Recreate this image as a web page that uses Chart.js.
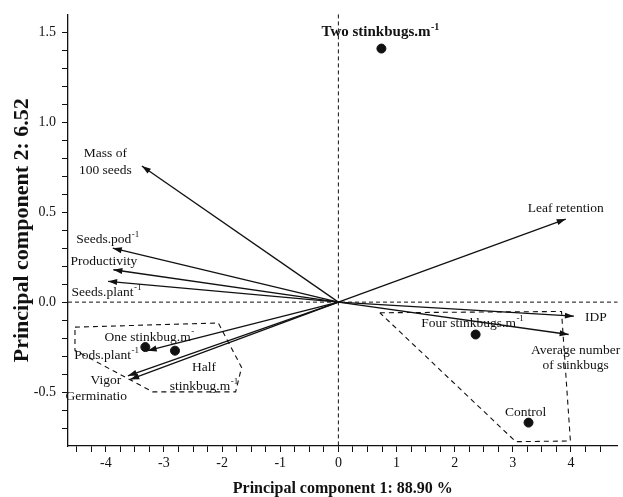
<!DOCTYPE html>
<html>
<head>
<meta charset="utf-8">
<script src="https://cdn.jsdelivr.net/npm/chart.js@4.4.0/dist/chart.umd.min.js"></script>
<style>
  html, body { margin: 0; padding: 0; background: #fff; }
  #wrap { width: 623px; height: 497px; }
</style>
</head>
<body>
<div id="wrap"><canvas id="pca"></canvas></div>
<script>
  // Treatments (scores)
  const treatmentNames = ['Two stinkbugs.m^-1', 'Four stinkbugs.m^-1', 'Control', 'One stinkbug.m^-', 'Half\nstinkbug.m^-1'];
  const treatmentPC1 = [0.74, 2.36, 3.27, -3.32, -2.81];
  const treatmentPC2 = [1.41, -0.18, -0.67, -0.25, -0.27];

  // Variables (loadings, drawn as arrows from the origin)
  const variableNames = ['Mass of\n100 seeds', 'Seeds.pod^-1', 'Productivity', 'Seeds.plant^-1', 'Pods.plant^-1',
    'Vigor', 'Germinatio', 'Leaf retention', 'IDP', 'Average number\nof stinkbugs'];
  const variablePC1 = [-3.38, -3.88, -3.87, -3.96, -3.28, -3.62, -3.58, 3.91, 4.05, 3.96];
  const variablePC2 = [0.757, 0.30, 0.18, 0.116, -0.27, -0.41, -0.43, 0.462, -0.078, -0.18];

  // Dashed groups
  const groupLeftPC1 = [-4.53, -2.065, -1.665, -1.767, -3.194, -4.53];
  const groupLeftPC2 = [-0.139, -0.116, -0.363, -0.499, -0.499, -0.268];
  const groupRightPC1 = [0.713, 3.837, 3.99, 3.05];
  const groupRightPC2 = [-0.059, -0.052, -0.772, -0.776];

  // Axis ticks
  const xTickLabels = [-4, -3, -2, -1, 0, 1, 2, 3, 4];
  const yTickLabels = [-0.5, 0.0, 0.5, 1.0, 1.5];
  const xMinorTicks = [];
  for (let i = -18; i <= 18; i++) xMinorTicks.push(i * 0.25);
  const yMinorTicks = [];
  for (let i = -7; i <= 15; i++) yMinorTicks.push(i / 10);

  // Label placement (pixel offsets from the mark)
  const treatmentLabelStyle = [
    { dx: -1, dy: -16, bold: true },
    { dx: -3, dy: -11 },
    { dx: -3, dy: -10 },
    { dx: 4, dy: -10 },
    { dx: 29, dy: 17, gap: 19 }
  ];
  const variableLabelStyle = [
    { dx: -36.5, dy: -12.4, gap: 17 },
    { dx: -5, dy: -9 },
    { dx: -9.6, dy: -8 },
    { dx: -1.6, dy: 11 },
    { dx: -41, dy: 4.6 },
    { dx: -22, dy: 5 },
    { dx: -34, dy: 17.4 },
    { dx: 0, dy: -11 },
    { dx: 22, dy: 1.5 },
    { dx: 7, dy: 16, gap: 15 }
  ];

  const INK = '#111';
  const SERIF = '"Liberation Serif", "Times New Roman", serif';

  const closeRing = (xs, ys) => xs.map((x, i) => ({ x, y: ys[i] })).concat([{ x: xs[0], y: ys[0] }]);

  const datasets = [];
  [[groupLeftPC1, groupLeftPC2], [groupRightPC1, groupRightPC2]].forEach(([xs, ys]) => {
    datasets.push({
      type: 'line', data: closeRing(xs, ys), borderColor: INK, borderWidth: 1.1,
      borderDash: [5, 4], pointRadius: 0, fill: false, tension: 0
    });
  });
  const firstVector = datasets.length;
  variableNames.forEach((name, i) => {
    datasets.push({
      type: 'line', label: name, data: [{ x: 0, y: 0 }, { x: variablePC1[i], y: variablePC2[i] }],
      borderColor: INK, borderWidth: 1.3, pointRadius: 0, fill: false, isVector: true
    });
  });
  const treatmentIndex = datasets.length;
  datasets.push({
    type: 'scatter', data: treatmentPC1.map((x, i) => ({ x, y: treatmentPC2[i] })),
    backgroundColor: INK, borderColor: INK, pointRadius: 4.5, pointHoverRadius: 4.5
  });

  // Text with a trailing superscript after '^'
  function drawRich(ctx, text, x, y, bold) {
    const size = bold ? 15 : 13.5;
    const mainFont = (bold ? 'bold ' : '') + size + 'px ' + SERIF;
    const supFont = (bold ? 'bold ' : '') + (bold ? 10 : 9) + 'px ' + SERIF;
    const [main, sup] = text.split('^');
    ctx.font = mainFont;
    const wMain = ctx.measureText(main).width;
    let wSup = 0;
    if (sup !== undefined) { ctx.font = supFont; wSup = ctx.measureText(sup).width + 0.5; }
    const start = x - (wMain + wSup) / 2;
    ctx.textAlign = 'left';
    ctx.textBaseline = 'middle';
    ctx.font = mainFont;
    ctx.fillText(main, start, y);
    if (sup !== undefined) {
      ctx.font = supFont;
      ctx.fillText(sup, start + wMain + 0.5, y - 5);
    }
  }

  function drawLabel(ctx, text, x, y, style) {
    const lines = text.split('\n');
    const gap = style.gap || 16;
    lines.forEach((line, k) => drawRich(ctx, line, x + style.dx, y + style.dy + k * gap, style.bold));
  }

  const biplotDecor = {
    id: 'biplotDecor',
    beforeDatasetsDraw(chart) {
      const { ctx, chartArea, scales } = chart;
      const x0 = scales.x.getPixelForValue(0);
      const y0 = scales.y.getPixelForValue(0);
      ctx.save();
      ctx.strokeStyle = INK;
      ctx.lineWidth = 1;
      ctx.setLineDash([4, 3]);
      ctx.beginPath();
      ctx.moveTo(chartArea.left, y0); ctx.lineTo(chartArea.right, y0);
      ctx.moveTo(x0, chartArea.top); ctx.lineTo(x0, chartArea.bottom);
      ctx.stroke();
      ctx.restore();
    },
    afterDatasetsDraw(chart) {
      const { ctx } = chart;
      ctx.save();
      ctx.fillStyle = INK;
      // arrowheads
      chart.data.datasets.forEach((ds, di) => {
        if (!ds.isVector) return;
        const pts = chart.getDatasetMeta(di).data;
        const a = pts[0], b = pts[1];
        const ang = Math.atan2(b.y - a.y, b.x - a.x);
        const len = 9, half = 3;
        ctx.beginPath();
        ctx.moveTo(b.x, b.y);
        ctx.lineTo(b.x - len * Math.cos(ang) + half * Math.sin(ang), b.y - len * Math.sin(ang) - half * Math.cos(ang));
        ctx.lineTo(b.x - len * Math.cos(ang) - half * Math.sin(ang), b.y - len * Math.sin(ang) + half * Math.cos(ang));
        ctx.closePath();
        ctx.fill();
      });
      // variable labels
      variableNames.forEach((name, i) => {
        const tip = chart.getDatasetMeta(firstVector + i).data[1];
        drawLabel(ctx, name, tip.x, tip.y, variableLabelStyle[i]);
      });
      // treatment labels
      const dots = chart.getDatasetMeta(treatmentIndex).data;
      treatmentNames.forEach((name, i) => {
        drawLabel(ctx, name, dots[i].x, dots[i].y, treatmentLabelStyle[i]);
      });
      ctx.restore();
    }
  };

  const near = (a, b) => Math.abs(a - b) < 1e-9;

  new Chart(document.getElementById('pca'), {
    type: 'scatter',
    data: { datasets },
    plugins: [biplotDecor],
    options: {
      responsive: true,
      maintainAspectRatio: false,
      animation: false,
      devicePixelRatio: 1,
      layout: { padding: { top: 13, right: 2.5, left: 0, bottom: 0 } },
      plugins: { legend: { display: false }, tooltip: { enabled: false } },
      scales: {
        x: {
          type: 'linear', min: -4.65, max: 4.8,
          afterBuildTicks: (axis) => { axis.ticks = xMinorTicks.map(v => ({ value: v })); },
          afterFit: (axis) => { axis.height = 51; },
          ticks: {
            autoSkip: false, maxRotation: 0, padding: 3, color: INK,
            font: { family: SERIF, size: 14 },
            callback: (v) => {
              const t = xTickLabels.find(l => near(l, v));
              return t === undefined ? '' : String(t);
            }
          },
          grid: { display: true, drawOnChartArea: false, drawTicks: true, tickLength: 6, color: INK, lineWidth: 1 },
          border: { display: true, color: INK, width: 1.3 },
          title: {
            display: true, text: 'Principal component 1: 88.90 %', color: INK,
            font: { family: SERIF, size: 16, weight: 'bold', lineHeight: 1 },
            padding: { top: 0, bottom: 0 }
          }
        },
        y: {
          type: 'linear', min: -0.8, max: 1.6,
          afterBuildTicks: (axis) => { axis.ticks = yMinorTicks.map(v => ({ value: v })); },
          afterFit: (axis) => { axis.width = 68; },
          ticks: {
            autoSkip: false, padding: 6, color: INK,
            font: { family: SERIF, size: 14 },
            callback: (v) => {
              const t = yTickLabels.find(l => near(l, v));
              return t === undefined ? '' : t.toFixed(1);
            }
          },
          grid: { display: true, drawOnChartArea: false, drawTicks: true, tickLength: 6, color: INK, lineWidth: 1 },
          border: { display: true, color: INK, width: 1.3 },
          title: {
            display: true, text: 'Principal component 2: 6.52', color: INK,
            font: { family: SERIF, size: 22, weight: 'bold', lineHeight: 1 },
            padding: { top: 11, bottom: 0 }
          }
        }
      }
    }
  });
</script>
</body>
</html>
